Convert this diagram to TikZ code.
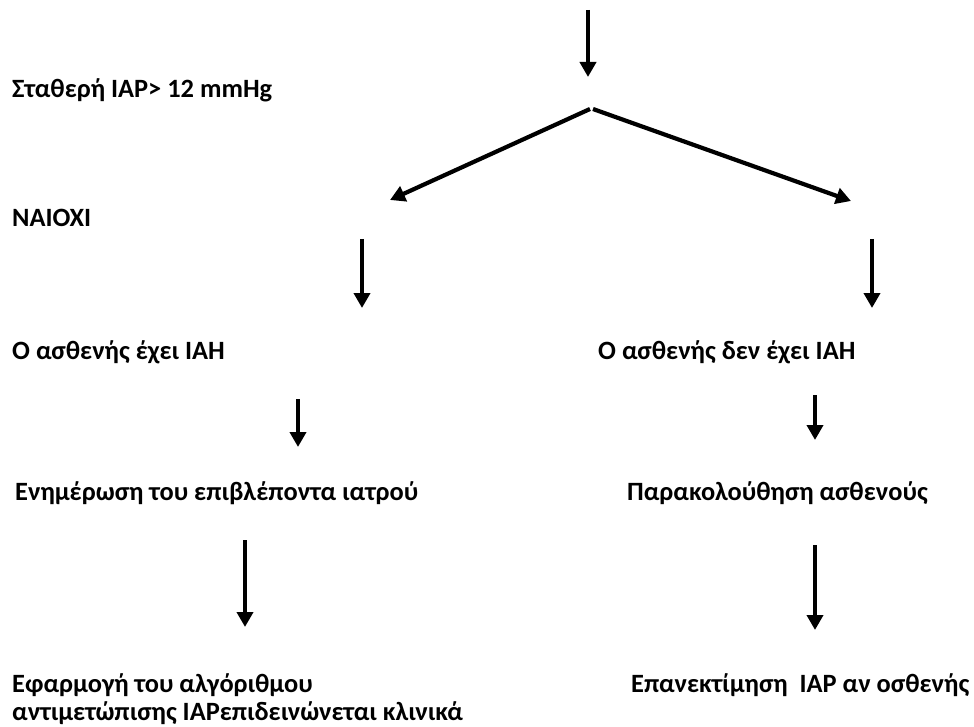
\documentclass[tikz,border=0pt]{standalone}
\usepackage{fontspec}
\setmainfont{Carlito}
\usetikzlibrary{arrows.meta}
\begin{document}
\begin{tikzpicture}[x=1pt,y=-1pt,
  lbl/.style={anchor=base west,inner sep=0pt,font=\bfseries\fontsize{26.4}{30}\selectfont},
  arr/.style={line width=4.2pt,-{Triangle[width=16pt,length=15pt]}}]
\useasboundingbox[fill=white] (0,0) rectangle (974,727);
% texts
\node[lbl] (t1) at (12,98) {Σταθερή IAP> 12 mmHg};
\node[lbl] (t2) at (12,227) {NAIOXI};
\node[lbl] (l1) at (12,359) {Ο ασθενής έχει ΙΑΗ};
\node[lbl] (r1) at (598,359) {Ο ασθενής δεν έχει ΙΑΗ};
\node[lbl] (l2) at (15,500) {Ενημέρωση του επιβλέποντα ιατρού};
\node[lbl] (r2) at (627,500) {Παρακολούθηση ασθενούς};
\node[lbl] (l3a) at (12,692) {Εφαρμογή του αλγόριθμου};
\node[lbl] (l3b) at (12,720) {αντιμετώπισης ΙΑΡεπιδεινώνεται κλινικά};
\node[lbl] (r3) at (631,692) {Επανεκτίμηση\ \ IAP αν οσθενής};
% arrow coordinates
\coordinate (a0s) at (588,10);  \coordinate (a0e) at (588,77);
\coordinate (jl) at (590,109);  \coordinate (jle) at (390,200);
\coordinate (jr) at (593,109);  \coordinate (jre) at (851,201);
\coordinate (a1s) at (362,239); \coordinate (a1e) at (362,308);
\coordinate (a2s) at (872,239); \coordinate (a2e) at (872,308);
\coordinate (a3s) at (298,399); \coordinate (a3e) at (298,447);
\coordinate (a4s) at (815,395); \coordinate (a4e) at (815,440);
\coordinate (a5s) at (245,540); \coordinate (a5e) at (245,627);
\coordinate (a6s) at (815,545); \coordinate (a6e) at (815,630);
\draw[arr] (a0s) -- (a0e);
\draw[arr] (jl) -- (jle);
\draw[arr] (jr) -- (jre);
\draw[arr] (a1s) -- (a1e);
\draw[arr] (a2s) -- (a2e);
\draw[arr] (a3s) -- (a3e);
\draw[arr] (a4s) -- (a4e);
\draw[arr] (a5s) -- (a5e);
\draw[arr] (a6s) -- (a6e);
\end{tikzpicture}
\end{document}
